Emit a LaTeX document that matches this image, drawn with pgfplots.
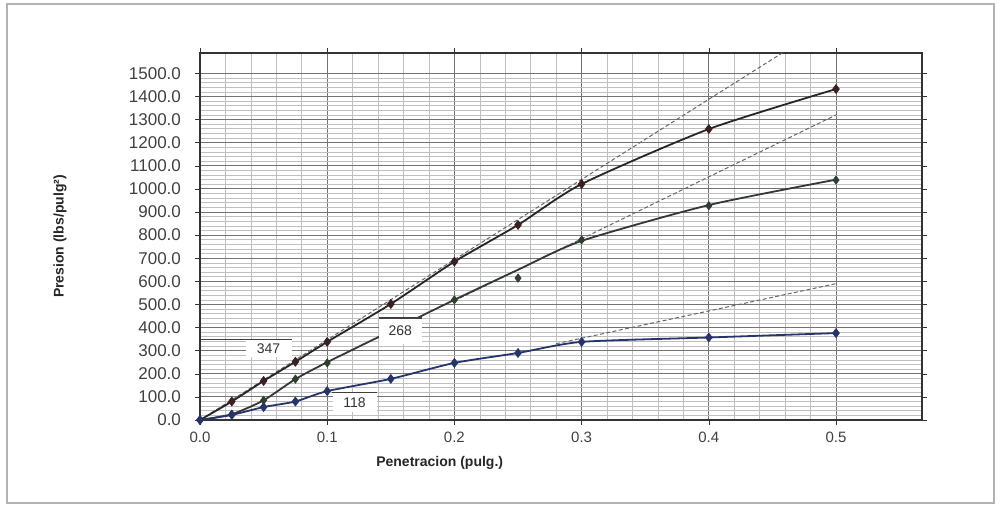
\documentclass[border=0pt]{standalone}
\usepackage{fontspec}
\setmainfont{Liberation Sans}
\usepackage{pgfplots}
\pgfplotsset{compat=1.18}
\definecolor{sone}{HTML}{262626}
\definecolor{sonem}{HTML}{3A2020}
\definecolor{stwo}{HTML}{333833}
\definecolor{stwom}{HTML}{2F3F2F}
\definecolor{sthree}{HTML}{27346B}

\pgfplotstableread{
x y
0 0
0.025 80
0.05 169
0.075 252
0.1 338
0.15 502
0.2 685
0.25 844
0.3 1021
0.4 1259
0.5 1432
}\sone

\pgfplotstableread{
x y
0 0
0.025 25
0.05 85
0.075 177
0.1 250
0.15 385
0.2 520
0.25 650
0.3 775
0.4 930
0.5 1040
}\stwocurve

\pgfplotstableread{
x y
0 0
0.025 25
0.05 85
0.075 177
0.1 247
0.2 520
0.25 614
0.3 779
0.4 927
0.5 1038
}\stwomarks

\pgfplotstableread{
x y
0 0
0.025 22
0.05 56
0.075 80
0.1 125
0.15 178
0.2 247
0.25 290
0.3 338
0.4 357
0.5 376
}\sthree

\begin{document}
\begin{tikzpicture}[x=1pt,y=1pt]
\useasboundingbox (0,0) rectangle (500,253);
\draw[black!30, line width=0.8pt] (3.5,1.5) rectangle (497,251);
\begin{axis}[
  at={(100pt,43pt)}, anchor=south west,
  scale only axis, width=361pt, height=183.5pt,
  xmin=0, xmax=0.5676, ymin=0, ymax=1588,
  xtick={0,0.1,0.2,0.3,0.4,0.5},
  ytick={0,100,...,1500},
  minor x tick num=4, minor y tick num=4,
  grid=both,
  major grid style={black!55, line width=0.4pt},
  minor grid style={black!25, line width=0.3pt},
  tick align=outside, major tick length=2.5pt, minor tick length=0pt,
  axis line style={black!80, line width=0.6pt},
  tick style={black!80},
  scaled ticks=false,
  /pgf/number format/assume math mode=true,
  xticklabel style={/pgf/number format/.cd, fixed, fixed zerofill, precision=1, 1000 sep={}, /tikz/.cd, font=\fontsize{7.5}{8}\selectfont, text=black!75},
  yticklabel style={/pgf/number format/.cd, fixed, fixed zerofill, precision=1, 1000 sep={}, /tikz/.cd, font=\fontsize{8.5}{9}\selectfont, text=black!75, xshift=-3.5pt},
  xlabel={Penetracion (pulg.)},
  ylabel={Presion (lbs/pulg²)},
  xlabel style={at={(axis description cs:0.332,-0.1172)}, anchor=center, font=\bfseries\fontsize{7}{8}\selectfont, text=black!85},
  ylabel style={at={(axis description cs:-0.1939,0.5)}, anchor=center, rotate=0, font=\bfseries\fontsize{7}{8}\selectfont, text=black!85},
  clip=true,
]
% tangent lines
\addplot[black!60, line width=0.5pt, dash pattern=on 2pt off 1.2pt] coordinates {(0,0) (0.458,1589)};
\addplot[black!60, line width=0.5pt, dash pattern=on 2pt off 1.2pt] coordinates {(0.2,516) (0.5,1320)};
\addplot[black!60, line width=0.5pt, dash pattern=on 2pt off 1.2pt] coordinates {(0.28,330) (0.5,590)};
% curves
\addplot[sone, line width=0.9pt, smooth, tension=0.4, no marks] table[x=x,y=y] {\sone};
\addplot[stwo, line width=0.9pt, smooth, tension=0.4, no marks] table[x=x,y=y] {\stwocurve};
\addplot[sthree, line width=0.9pt, smooth, tension=0.4, no marks] table[x=x,y=y] {\sthree};
% markers
\addplot[only marks, mark=diamond*, mark size=2.2pt, color=sonem] table[x=x,y=y] {\sone};
\addplot[only marks, mark=diamond*, mark size=2.0pt, color=stwom] table[x=x,y=y] {\stwomarks};
\addplot[only marks, mark=diamond*, mark size=2.2pt, color=sthree] table[x=x,y=y] {\sthree};
% annotation boxes
\node[fill=white, inner sep=0pt, minimum width=23pt, minimum height=8.5pt, font=\fontsize{7}{8}\selectfont, text=black!80] at (axis cs:0.0539,309) {347};
\node[fill=white, inner sep=0pt, minimum width=21.7pt, minimum height=12.8pt, font=\fontsize{7}{8}\selectfont, text=black!80] at (axis cs:0.1575,386) {268};
\node[fill=white, inner sep=0pt, minimum width=22pt, minimum height=9.5pt, font=\fontsize{7}{8}\selectfont, text=black!80] at (axis cs:0.1215,76) {118};
\addplot[black!75, line width=0.6pt] coordinates {(0,347) (0.072,347)};
\addplot[black!75, line width=0.6pt] coordinates {(0.1404,441) (0.1745,441)};
\addplot[black!75, line width=0.6pt] coordinates {(0.104,118) (0.139,118)};
\end{axis}
\end{tikzpicture}
\end{document}
